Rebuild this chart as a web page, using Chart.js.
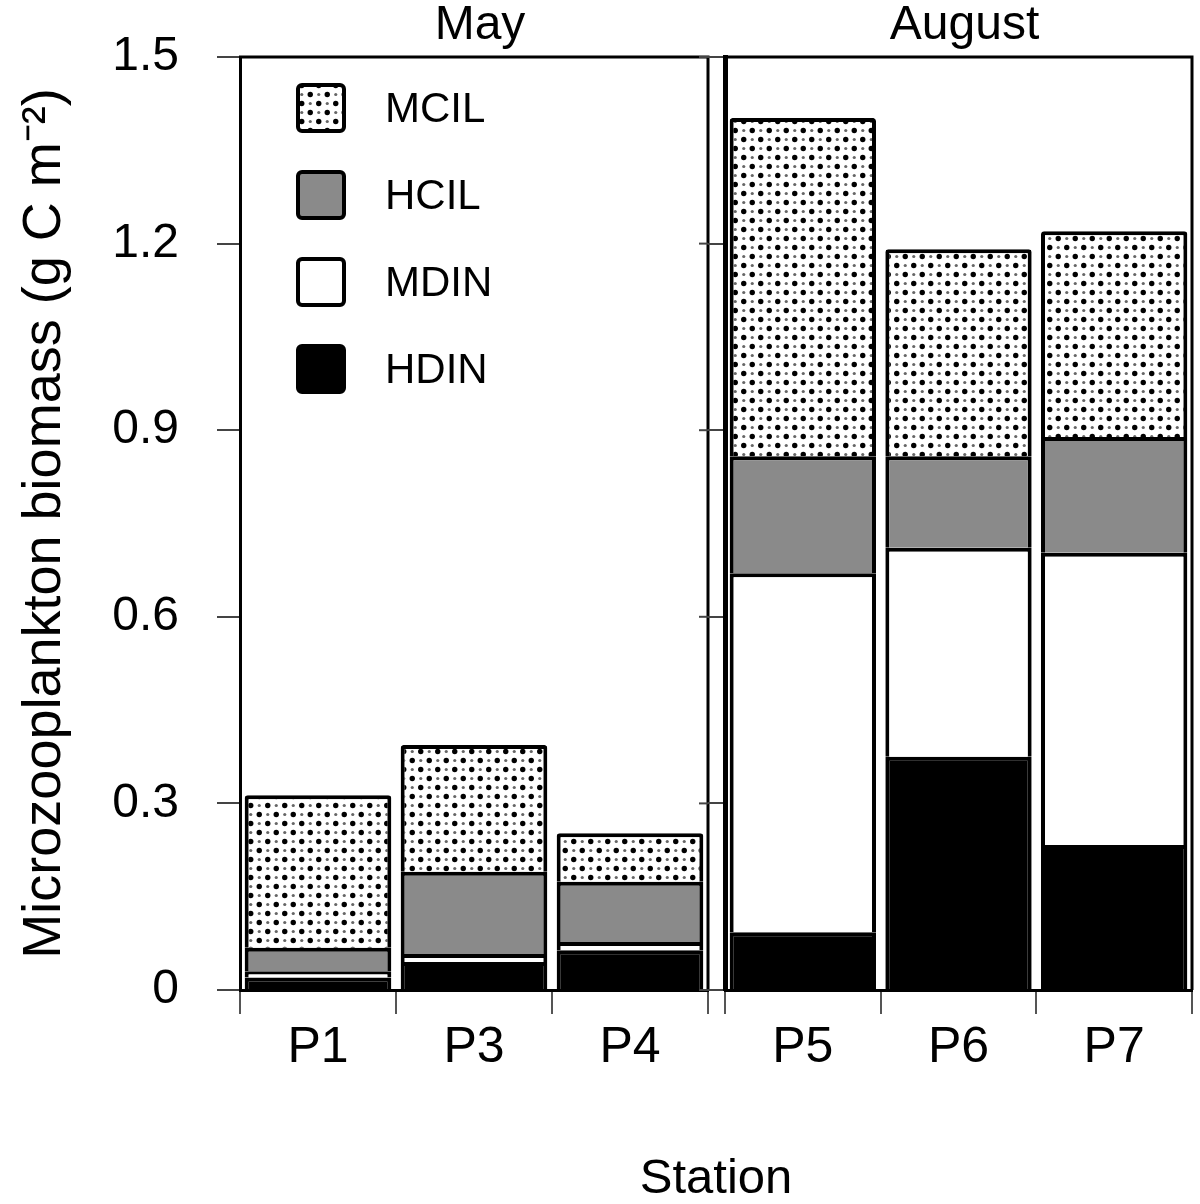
<!DOCTYPE html>
<html>
<head>
<meta charset="utf-8">
<script src="https://cdn.jsdelivr.net/npm/chart.js@4/dist/chart.umd.min.js"></script>
<style>
  body { margin: 0; background: #fff; }
  #wrap { position: relative; width: 1200px; height: 1204px; }
  #wrap canvas { position: absolute; left: 0; top: 0; }
</style>
</head>
<body>
<div id="wrap">
  <canvas id="may" width="1200" height="1204"></canvas>
  <canvas id="aug" width="1200" height="1204"></canvas>
</div>
<script>
// stations per sampling month
const mayStations = ['P1', 'P3', 'P4'];
const augStations = ['P5', 'P6', 'P7'];

// biomass (g C m-2) per group, stacked bottom -> top
const hdinMay = [0.020, 0.045, 0.064];
const mdinMay = [0.010, 0.013, 0.013];
const hcilMay = [0.038, 0.132, 0.097];
const mcilMay = [0.245, 0.204, 0.078];

const hdinAug = [0.093, 0.375, 0.233];
const mdinAug = [0.577, 0.336, 0.470];
const hcilAug = [0.188, 0.147, 0.186];
const mcilAug = [0.544, 0.333, 0.331];

const yTicks = [0, 0.3, 0.6, 0.9, 1.2, 1.5];
const groupNames = ['HDIN', 'MDIN', 'HCIL', 'MCIL'];
const yTitle = 'Microzooplankton biomass (g C m\u207B\u00B2)';

const FONT = 'Liberation Sans, Arial, Helvetica, sans-serif';

// dotted fill for MCIL
function dotPattern() {
  let c = document.createElement('canvas');
  c.width = 17; c.height = 18;
  let g = c.getContext('2d');
  g.fillStyle = '#fff';
  g.fillRect(0, 0, 17, 18);
  g.fillStyle = '#000';
  g.beginPath(); g.arc(4.25, 4.5, 2.7, 0, Math.PI * 2); g.fill();
  g.beginPath(); g.arc(12.75, 13.5, 2.7, 0, Math.PI * 2); g.fill();
  g.fillStyle = '#666';
  g.beginPath(); g.arc(12.75, 4.5, 1.6, 0, Math.PI * 2); g.fill();
  g.beginPath(); g.arc(4.25, 13.5, 1.6, 0, Math.PI * 2); g.fill();
  return document.getElementById('may').getContext('2d').createPattern(c, 'repeat');
}
const dots = dotPattern();
const fills = ['#000', '#fff', '#8a8a8a', dots];

function makeSets(vals) {
  return vals.map((v, i) => ({
    label: groupNames[i],
    data: v,
    backgroundColor: fills[i],
    borderColor: '#000',
    borderWidth: 4,
    borderRadius: 3,
    categoryPercentage: 0.94,
    barPercentage: 1
  }));
}

// top + right border of each panel, tick marks on the right side
const framePlugin = {
  id: 'frame',
  afterDraw(chart, args, opts) {
    let a = chart.chartArea, ctx = chart.ctx, y = chart.scales.y;
    ctx.save();
    ctx.strokeStyle = '#000';
    ctx.lineWidth = 3;
    ctx.beginPath();
    ctx.moveTo(a.left - 1, a.top);
    ctx.lineTo(a.right, a.top);
    ctx.lineTo(a.right, a.bottom);
    ctx.stroke();
    if (opts.rightTicks) {
      ctx.lineWidth = 2;
      ctx.strokeStyle = '#444';
      yTicks.forEach(t => {
        let py = y.getPixelForValue(t);
        ctx.beginPath();
        ctx.moveTo(a.right - 9, py);
        ctx.lineTo(a.right, py);
        ctx.stroke();
      });
    }
    // panel title
    ctx.fillStyle = '#000';
    ctx.font = '48px ' + FONT;
    ctx.textAlign = 'center';
    ctx.textBaseline = 'alphabetic';
    ctx.fillText(opts.title, (a.left + a.right) / 2 + 6, 39);
    ctx.restore();
  }
};

const legendPlugin = {
  id: 'boxLegend',
  afterDraw(chart, args, opts) {
    if (!opts.show) return;
    let a = chart.chartArea, ctx = chart.ctx;
    let order = [3, 2, 1, 0];
    ctx.save();
    order.forEach((k, i) => {
      let x = a.left + 58, y = a.top + 28 + i * 87;
      ctx.beginPath();
      ctx.roundRect(x, y, 46, 46, 4);
      ctx.fillStyle = fills[k];
      ctx.fill();
      ctx.lineWidth = 4;
      ctx.strokeStyle = '#000';
      ctx.stroke();
      ctx.fillStyle = '#000';
      ctx.font = '42px ' + FONT;
      ctx.textAlign = 'left';
      ctx.textBaseline = 'middle';
      ctx.fillText(groupNames[k], a.left + 145, y + 25);
    });
    ctx.restore();
  }
};

const stationPlugin = {
  id: 'stationTitle',
  afterDraw(chart, args, opts) {
    if (!opts.show) return;
    let ctx = chart.ctx;
    ctx.save();
    ctx.fillStyle = '#000';
    ctx.font = '49px ' + FONT;
    ctx.textAlign = 'center';
    ctx.textBaseline = 'alphabetic';
    ctx.fillText('Station', 716, 1193);
    ctx.restore();
  }
};

function panel(id, labels, vals, opt) {
  return new Chart(document.getElementById(id), {
    type: 'bar',
    data: { labels: labels, datasets: makeSets(vals) },
    plugins: [framePlugin, legendPlugin, stationPlugin],
    options: {
      responsive: false,
      animation: false,
      devicePixelRatio: 1,
      events: [],
      layout: { padding: { top: 57, right: opt.padRight, bottom: 0, left: 0 } },
      plugins: {
        legend: { display: false },
        tooltip: { enabled: false },
        frame: { title: opt.title, rightTicks: opt.rightTicks },
        boxLegend: { show: opt.legend },
        stationTitle: { show: opt.station }
      },
      scales: {
        x: {
          stacked: true,
          offset: true,
          grid: { offset: true, drawOnChartArea: false, drawTicks: true, tickLength: 24, color: '#555', lineWidth: 2 },
          border: { display: true, color: '#000', width: 3 },
          ticks: { color: '#000', font: { family: FONT, size: 50 }, padding: 4 },
          afterFit: s => { s.height = 214; s.paddingLeft = 0; s.paddingRight = 0; }
        },
        y: {
          stacked: true,
          min: 0,
          max: 1.5,
          afterBuildTicks: s => { s.ticks = yTicks.map(v => ({ value: v })); },
          grid: { drawOnChartArea: false, drawTicks: true, tickLength: opt.tickLen, color: '#444', lineWidth: 2 },
          border: { display: true, color: '#000', width: opt.axisWidth },
          ticks: {
            display: opt.yLabels,
            color: '#000',
            font: { family: FONT, size: 48 },
            padding: 38,
            callback: v => v === 0 ? '0' : v.toFixed(1)
          },
          title: {
            display: opt.yLabels,
            text: yTitle,
            color: '#000',
            font: { family: FONT, size: 54 },
            padding: { top: 13, bottom: 0 }
          },
          afterFit: s => { s.width = opt.yWidth; s.paddingTop = 0; s.paddingBottom = 0; }
        }
      }
    }
  });
}

panel('may', mayStations, [hdinMay, mdinMay, hcilMay, mcilMay],
  { title: 'May', padRight: 492, yWidth: 240, tickLen: 23, axisWidth: 3, yLabels: true, legend: true, station: true, rightTicks: true });
panel('aug', augStations, [hdinAug, mdinAug, hcilAug, mcilAug],
  { title: 'August', padRight: 8, yWidth: 725, tickLen: 17, axisWidth: 5, yLabels: false, legend: false, station: false, rightTicks: false });
</script>
</body>
</html>
